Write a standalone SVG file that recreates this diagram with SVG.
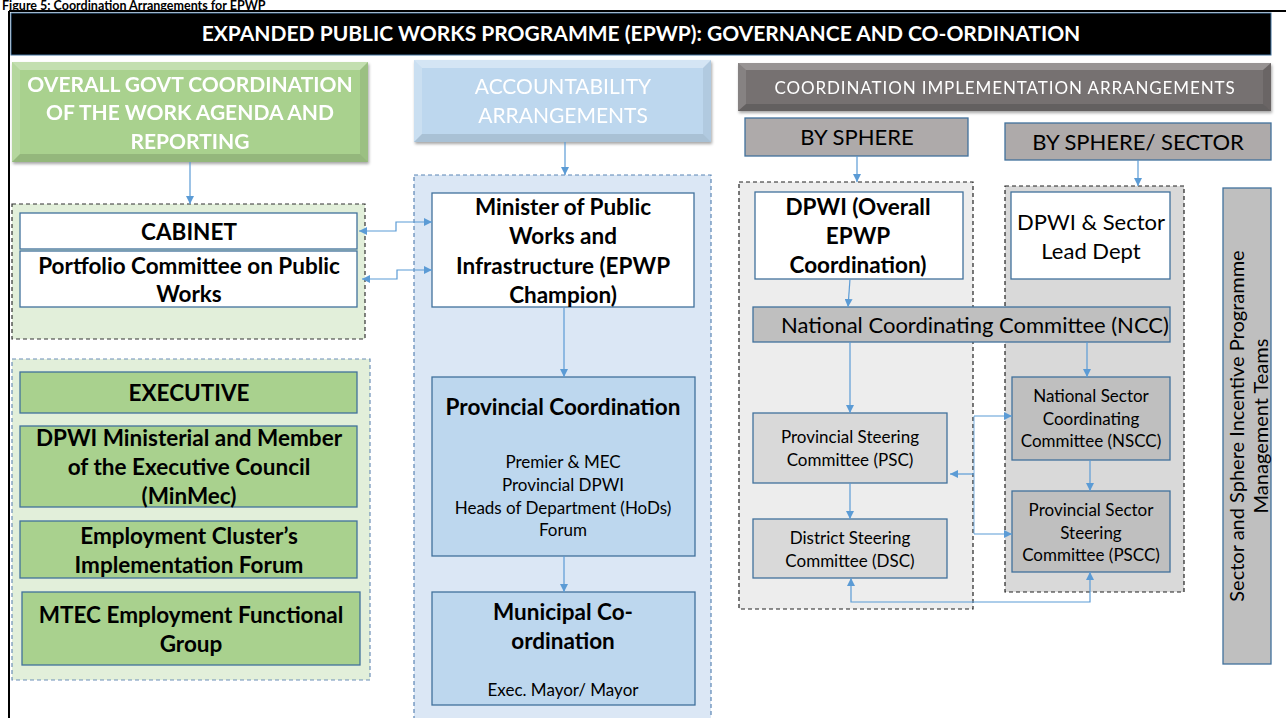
<svg xmlns="http://www.w3.org/2000/svg" width="1286" height="718" viewBox="0 0 1286 718">
<defs>
<marker id="ah" viewBox="0 0 10 10" refX="10" refY="5" markerWidth="8" markerHeight="8" markerUnits="userSpaceOnUse" orient="auto-start-reverse">
<path d="M0,0 L10,5 L0,10 z" fill="#5b9bd5"/>
</marker>
<filter id="sh" x="-5%" y="-5%" width="110%" height="120%">
<feDropShadow dx="1" dy="2" stdDeviation="1.5" flood-color="#000" flood-opacity="0.35"/>
</filter>
</defs>
<style>
text{font-family:Lato,"Open Sans","Liberation Sans",sans-serif;text-anchor:middle;}
.b{font-weight:bold;font-size:22.5px;}
.box{stroke:#41719c;stroke-width:1.3;}
.wht{fill:#ffffff;}
.grn{fill:#a9d18e;}
.blu{fill:#bdd7ee;}
.g1{fill:#d9d9d9;}
.g2{fill:#bfbfbf;}
.g3{fill:#aeaaaa;}
.cn{fill:none;stroke:#5b9bd5;stroke-width:1.2;}
.dash{stroke-dasharray:4 3;stroke-width:1.2;}
.t20{font-size:22px;}
.t15{font-size:17px;}
.hw{fill:#ffffff;}
</style>
<rect width="1286" height="718" fill="#ffffff"/>
<!-- caption -->
<text x="2" y="9.5" style="text-anchor:start;font-size:12.5px;font-weight:bold" fill="#000">Figure 5: Coordination Arrangements for EPWP</text>
<!-- frame -->
<line x1="9" y1="11" x2="1286" y2="11" stroke="#000" stroke-width="2"/>
<line x1="9" y1="11" x2="9" y2="718" stroke="#000" stroke-width="2"/>
<g id="title">
<rect x="11" y="13" width="1260" height="42" fill="#000" stroke="#41719c" stroke-width="1"/>
<text x="641" y="41" class="hw" style="font-size:21px;font-weight:bold">EXPANDED PUBLIC WORKS PROGRAMME (EPWP): GOVERNANCE AND CO-ORDINATION</text>
</g>
<!-- headers -->
<g id="hdr-green" filter="url(#sh)">
<rect x="12" y="62" width="356" height="100" fill="#a9d18e"/>
<polygon points="12,62 368,62 360,70 20,70" fill="#ffffff" opacity="0.3"/>
<polygon points="12,62 20,70 20,154 12,162" fill="#ffffff" opacity="0.15"/>
<polygon points="368,62 368,162 360,154 360,70" fill="#000" opacity="0.08"/>
<polygon points="12,162 368,162 360,154 20,154" fill="#000" opacity="0.12"/>
<text x="190" y="92" class="hw" style="font-size:21px;font-weight:bold">OVERALL GOVT COORDINATION</text>
<text x="190" y="120" class="hw" style="font-size:21px;font-weight:bold">OF THE WORK AGENDA AND</text>
<text x="190" y="149" class="hw" style="font-size:21px;font-weight:bold">REPORTING</text>
</g>
<g id="hdr-blue" filter="url(#sh)">
<rect x="414" y="60" width="297" height="82" fill="#bdd7ee"/>
<polygon points="414,60 711,60 703,68 422,68" fill="#ffffff" opacity="0.35"/>
<polygon points="414,60 422,68 422,134 414,142" fill="#ffffff" opacity="0.2"/>
<polygon points="711,60 711,142 703,134 703,68" fill="#000" opacity="0.06"/>
<polygon points="414,142 711,142 703,134 422,134" fill="#000" opacity="0.1"/>
<text x="563" y="94" class="hw" style="font-size:21px">ACCOUNTABILITY</text>
<text x="563" y="123" class="hw" style="font-size:21px">ARRANGEMENTS</text>
</g>
<g id="hdr-gray" filter="url(#sh)">
<rect x="738" y="63" width="533" height="48" fill="#767171"/>
<polygon points="738,63 1271,63 1263,70 746,70" fill="#ffffff" opacity="0.25"/>
<polygon points="738,63 746,70 746,104 738,111" fill="#ffffff" opacity="0.12"/>
<polygon points="1271,63 1271,111 1263,104 1263,70" fill="#000" opacity="0.1"/>
<polygon points="738,111 1271,111 1263,104 746,104" fill="#000" opacity="0.15"/>
<text x="1005" y="94" class="hw" style="font-size:17px;letter-spacing:0.9px">COORDINATION  IMPLEMENTATION  ARRANGEMENTS</text>
</g>
<g id="by-sphere">
<rect x="745" y="118" width="223" height="38" class="box g3"/>
<text x="857" y="145" class="t20">BY SPHERE</text>
</g>
<g id="by-sphere-sector">
<rect x="1005" y="123" width="266" height="37" class="box g3"/>
<text x="1138" y="150" class="t20">BY SPHERE/ SECTOR</text>
</g>
<!-- containers -->
<g id="grp-cabinet">
<rect x="12" y="204" width="353" height="135" fill="#e2efda" stroke="#333" class="dash"/>
</g>
<g id="grp-executive">
<rect x="12" y="359" width="358" height="321" fill="#e2efda" stroke="#6d8fb8" class="dash"/>
</g>
<g id="grp-accountability">
<rect x="414" y="175" width="297" height="560" fill="#dbe7f5" stroke="#5b85b5" class="dash"/>
</g>
<g id="grp-sphere">
<rect x="739" y="182" width="234" height="427" fill="#ededed" stroke="#222" class="dash"/>
</g>
<g id="grp-sector">
<rect x="1005" y="186" width="179" height="406" fill="#d9d9d9" stroke="#222" class="dash"/>
</g>
<!-- nodes -->
<g id="cabinet">
<rect x="20" y="213" width="337" height="36" class="box wht"/>
<text x="189" y="240" class="b">CABINET</text>
</g>
<g id="portfolio">
<rect x="20" y="251" width="337" height="56" class="box wht"/>
<text x="189" y="274" class="b">Portfolio Committee on Public</text>
<text x="189" y="302" class="b">Works</text>
</g>
<g id="executive">
<rect x="20" y="372" width="337" height="41" class="box grn"/>
<text x="189" y="401" class="b">EXECUTIVE</text>
</g>
<g id="minmec">
<rect x="20" y="426" width="337" height="81" class="box grn"/>
<text x="189" y="446" class="b">DPWI Ministerial and Member</text>
<text x="189" y="475" class="b">of the Executive Council</text>
<text x="189" y="504" class="b">(MinMec)</text>
</g>
<g id="cluster">
<rect x="20" y="521" width="337" height="57" class="box grn"/>
<text x="189" y="544" class="b">Employment Cluster’s</text>
<text x="189" y="573" class="b">Implementation Forum</text>
</g>
<g id="mtec">
<rect x="22" y="592" width="338" height="73" class="box grn"/>
<text x="191" y="623" class="b">MTEC Employment Functional</text>
<text x="191" y="652" class="b">Group</text>
</g>
<g id="minister">
<rect x="432" y="193" width="262" height="114" class="box wht"/>
<text x="563" y="215" class="b">Minister of Public</text>
<text x="563" y="244" class="b">Works and</text>
<text x="563" y="274" class="b">Infrastructure (EPWP</text>
<text x="563" y="303" class="b">Champion)</text>
</g>
<g id="provincial">
<rect x="432" y="377" width="263" height="179" class="box blu"/>
<text x="563" y="415" class="b">Provincial Coordination</text>
<text x="563" y="468" class="t15">Premier &amp; MEC</text>
<text x="563" y="491" class="t15">Provincial DPWI</text>
<text x="563" y="514" class="t15">Heads of Department (HoDs)</text>
<text x="563" y="536" class="t15">Forum</text>
</g>
<g id="municipal">
<rect x="432" y="592" width="263" height="113" class="box blu"/>
<text x="563" y="620" class="b">Municipal Co-</text>
<text x="563" y="649" class="b">ordination</text>
<text x="563" y="696" class="t15">Exec. Mayor/ Mayor</text>
</g>
<g id="dpwi-overall">
<rect x="755" y="192" width="208" height="87" class="box wht"/>
<text x="858" y="215" class="b">DPWI (Overall</text>
<text x="858" y="244" class="b">EPWP</text>
<text x="858" y="273" class="b">Coordination)</text>
</g>
<g id="dpwi-sector">
<rect x="1011" y="192" width="159" height="87" class="box wht"/>
<text x="1091" y="230" class="t20">DPWI &amp; Sector</text>
<text x="1091" y="259" class="t20">Lead Dept</text>
</g>
<g id="ncc">
<rect x="753" y="307" width="417" height="35" class="box g2"/>
<text x="975" y="333" class="t20">National Coordinating Committee (NCC)</text>
</g>
<g id="psc">
<rect x="753" y="413" width="194" height="70" class="box g1"/>
<text x="850" y="443" class="t15">Provincial Steering</text>
<text x="850" y="466" class="t15">Committee (PSC)</text>
</g>
<g id="dsc">
<rect x="753" y="519" width="194" height="59" class="box g1"/>
<text x="850" y="544" class="t15">District Steering</text>
<text x="850" y="567" class="t15">Committee (DSC)</text>
</g>
<g id="nscc">
<rect x="1012" y="377" width="158" height="83" class="box g2"/>
<text x="1091" y="402" class="t15">National Sector</text>
<text x="1091" y="425" class="t15">Coordinating</text>
<text x="1091" y="447" class="t15">Committee (NSCC)</text>
</g>
<g id="pscc">
<rect x="1012" y="491" width="158" height="81" class="box g2"/>
<text x="1091" y="516" class="t15">Provincial Sector</text>
<text x="1091" y="539" class="t15">Steering</text>
<text x="1091" y="561" class="t15">Committee (PSCC)</text>
</g>
<g id="mgmt-teams">
<rect x="1223" y="188" width="48" height="476" class="box g2"/>
<text transform="translate(1244,426) rotate(-90)" style="font-size:20px">Sector and Sphere Incentive Programme</text>
<text transform="translate(1268,426) rotate(-90)" style="font-size:20px">Management Teams</text>
</g>
<!-- connectors -->
<g id="connectors">
<path class="cn" d="M190,162 V204" marker-end="url(#ah)"/>
<path class="cn" d="M565,142 V175" marker-end="url(#ah)"/>
<path class="cn" d="M857,156 V182" marker-end="url(#ah)"/>
<path class="cn" d="M1138,160 V186" marker-end="url(#ah)"/>
<path class="cn" d="M359,231 H396 V222 H432" marker-start="url(#ah)" marker-end="url(#ah)"/>
<path class="cn" d="M362,279 H397 V270 H432" marker-start="url(#ah)" marker-end="url(#ah)"/>
<path class="cn" d="M564,307 V377" marker-end="url(#ah)"/>
<path class="cn" d="M564,556 V592" marker-end="url(#ah)"/>
<path class="cn" d="M850,279 L848,307" marker-end="url(#ah)"/>
<path class="cn" d="M850,342 V413" marker-end="url(#ah)"/>
<path class="cn" d="M850,483 V519" marker-end="url(#ah)"/>
<path class="cn" d="M1087,342 V377" marker-end="url(#ah)"/>
<path class="cn" d="M1090,460 V491" marker-end="url(#ah)"/>
<path class="cn" d="M974,474 H950" marker-end="url(#ah)"/>
<path class="cn" d="M974,416 V534" stroke-opacity="0.7"/>
<path class="cn" d="M974,416 H1012" marker-end="url(#ah)"/>
<path class="cn" d="M974,534 H1012" marker-end="url(#ah)"/>
<path class="cn" d="M851,578 V602 H1090 V572" marker-start="url(#ah)" marker-end="url(#ah)"/>
</g>
</svg>
